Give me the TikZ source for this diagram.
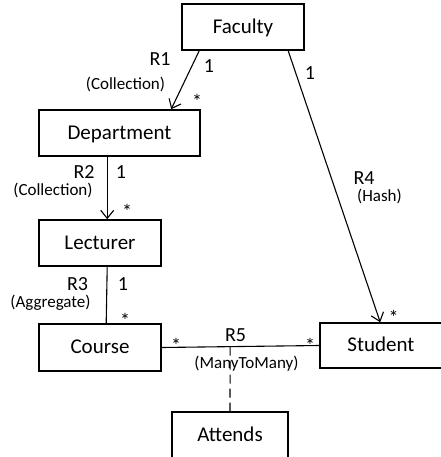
\documentclass[tikz,border=0pt]{standalone}
\usepackage{fontspec}
\setmainfont{Carlito}
\usetikzlibrary{arrows.meta}
\tikzset{
  entity/.style={draw, line width=1.6pt, minimum width=122pt, minimum height=46pt,
    inner sep=0pt, font=\fontsize{21}{24}\selectfont, text height=15pt, text depth=2.4pt},
  assoc/.style={line width=1.1pt},
  nav/.style={assoc, -{Straight Barb[length=8pt,width=13pt,line width=1.1pt]}},
  role/.style={font=\fontsize{20}{22}\selectfont, anchor=base, inner sep=0pt},
  kind/.style={font=\fontsize{17}{19}\selectfont, anchor=base, inner sep=0pt},
  mult/.style={role},
}
\begin{document}
\begin{tikzpicture}[x=1pt,y=-1pt]
\useasboundingbox (0,0) rectangle (440,457);

% classes
\node[entity] (faculty) at (243,27) {Faculty};
\node[entity, minimum width=161pt] (department) at (119.5,133) {Department};
\node[entity] (lecturer) at (100,243) {Lecturer};
\node[entity, minimum height=47pt] (course) at (100,347.5) {Course};
\node[entity, minimum height=45pt] (student) at (381,345.5) {Student};
\node[entity, minimum width=116pt] (attends) at (230,435) {Attends};

% associations
\draw[nav] ([xshift=18pt]faculty.south west) -- ([xshift=133pt]department.north west);
\draw[nav] ([xshift=69pt]department.south west) coordinate (r2top) -- (r2top |- lecturer.north);
\draw[assoc] ([xshift=69pt]lecturer.south west) -- ([xshift=68pt]course.north west);
\draw[nav] ([xshift=107pt]faculty.south west) -- ([xshift=61pt]student.north west);
\draw[assoc] (course.east) -- (student.west) coordinate[pos=0.434] (r5mid);
\draw[assoc, dash pattern=on 9pt off 5pt] (r5mid) -- (attends.north);

% R1
\node[role] (r1name) at (160,66) {R1};
\node[mult] (r1one) at (209,72.7) {1};
\node[kind] (r1kind) at (125.5,90) {(Collection)};
\node[mult] (r1many) at (197,109) {*};
% R2
\node[role] (r2name) at (84,178.3) {R2};
\node[mult] (r2one) at (121,178.3) {1};
\node[kind] (r2kind) at (53,195) {(Collection)};
\node[mult] (r2many) at (127,218) {*};
% R3
\node[role] (r3name) at (77.5,290) {R3};
\node[mult] (r3one) at (123,290) {1};
\node[kind] (r3kind) at (50.5,307) {(Aggregate)};
\node[mult] (r3many) at (125,327) {*};
% R4
\node[mult] (r4one) at (310,80) {1};
\node[role] (r4name) at (364,184.5) {R4};
\node[kind] (r4kind) at (379.5,201) {(Hash)};
\node[mult] (r4many) at (393.5,324) {*};
% R5
\node[role] (r5name) at (235.5,341.7) {R5};
\node[mult] (r5left) at (176,352) {*};
\node[mult] (r5right) at (310,352) {*};
\node[kind] (r5kind) at (246.5,368) {(ManyToMany)};
\end{tikzpicture}
\end{document}
